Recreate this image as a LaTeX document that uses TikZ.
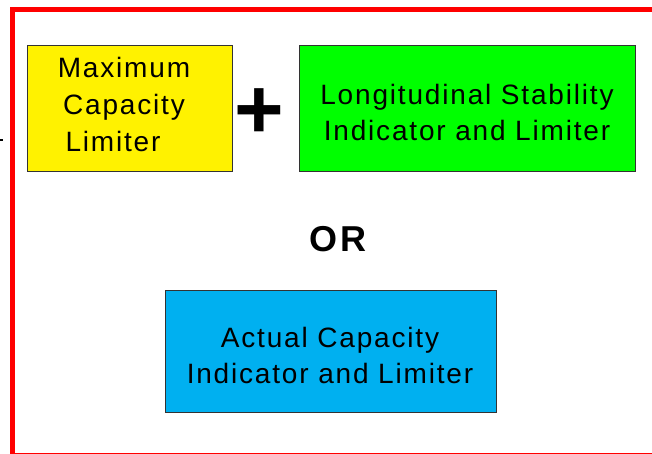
\documentclass[tikz,border=0pt]{standalone}
\usepackage{fontspec}
\setmainfont{Liberation Sans}[LetterSpace=6.5]
\definecolor{capblue}{HTML}{00B0F0}
\definecolor{limgreen}{HTML}{00FF00}
\begin{document}
\begin{tikzpicture}[x=1pt,y=1pt,line join=miter,font=\fontsize{28}{36}\selectfont,
 box/.style={draw=black!80,line width=1pt,minimum height=126pt,inner sep=0pt},
 boxtext/.style={align=center,inner sep=0pt}]
 \useasboundingbox (0,0) rectangle (652,454);
 % red frame, cut by the page edges
 \begin{scope}
 \clip (0,0) rectangle (652,454);
 \draw[red,line width=5pt] (12,-1.8) rectangle (660,444.5);
 \end{scope}
 \draw[line width=1.5pt] (0,314)--(2.5,314);
 \node[box,fill=yellow,minimum width=205pt] (maxcap) at (129.5,345) {};
 \node[box,fill=limgreen,minimum width=336pt] (longstab) at (467,345) {};
 \node[box,fill=capblue,minimum width=331pt,minimum height=122pt] (actcap) at (331,102.5) {};
 \node[boxtext,font=\fontsize{28}{37}\selectfont] (maxcaptxt) at ([xshift=-5.5pt,yshift=4.4pt]maxcap.center) {Maximum\\Capacity\\Limiter\hspace*{22pt}};
 \node[boxtext] (longstabtxt) at ([yshift=-3.7pt]longstab.center) {Longitudinal Stability\\Indicator and Limiter};
 \node[boxtext] (actcaptxt) at ([xshift=-1pt,yshift=-4.2pt]actcap.center) {Actual Capacity\\Indicator and Limiter};
 \node[font=\fontsize{85}{85}\selectfont\bfseries] (plus) at (259.5,340.5) {+};
 \node[font=\fontsize{36}{36}\selectfont\bfseries] (or) at (338,215) {OR};
\end{tikzpicture}
\end{document}
